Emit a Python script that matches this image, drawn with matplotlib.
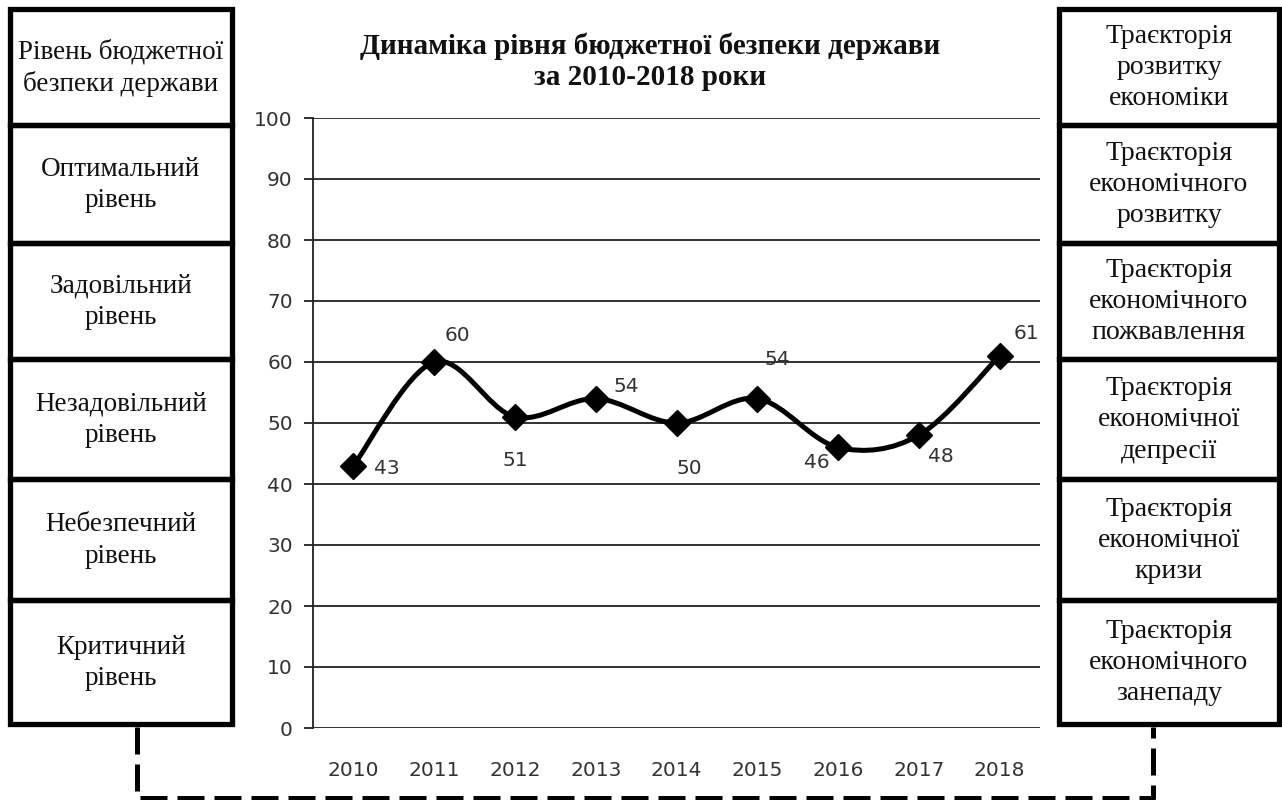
import numpy as np
import matplotlib
matplotlib.use("Agg")
import matplotlib.pyplot as plt
from matplotlib.patches import Rectangle
from matplotlib.path import Path
from matplotlib.patches import PathPatch

# ---------------- data ----------------
years = ["2010", "2011", "2012", "2013", "2014", "2015", "2016", "2017", "2018"]
values = [43, 60, 51, 54, 50, 54, 46, 48, 61]
y_ticks = [0, 10, 20, 30, 40, 50, 60, 70, 80, 90, 100]

title_text = "Динаміка рівня бюджетної безпеки держави\nза 2010-2018 роки"
left_labels = [
    "Рівень бюджетної\nбезпеки держави",
    "Оптимальний\nрівень",
    "Задовільний\nрівень",
    "Незадовільний\nрівень",
    "Небезпечний\nрівень",
    "Критичний\nрівень",
]
right_labels = [
    "Траєкторія\nрозвитку\nекономіки",
    "Траєкторія\nекономічного\nрозвитку",
    "Траєкторія\nекономічного\nпожвавлення",
    "Траєкторія\nекономічної\nдепресії",
    "Траєкторія\nекономічної\nкризи",
    "Траєкторія\nекономічного\nзанепаду",
]

# label offsets in pixels (dx, dy up)
label_offsets_px = [(33, -3), (23, 26), (0, -44), (31, 12), (13, -46),
                    (20, 39), (-21, -15), (22, -21), (27, 22)]

W, H = 1282, 800
fig = plt.figure(figsize=(W / 100, H / 100), dpi=100)
fig.patch.set_facecolor("white")

# ---------------- overlay for boxes ----------------
ov = fig.add_axes([0, 0, 1, 1])
ov.set_xlim(0, W)
ov.set_ylim(H, 0)
ov.axis("off")

row_edges = [8.5, 125, 242.5, 359, 479, 600, 723.5]
lw_box = 3.8
serif = ["Liberation Serif", "DejaVu Serif"]

def draw_column(x0, x1, labels, fs, ls):
    for i, lab in enumerate(labels):
        y0, y1 = row_edges[i], row_edges[i + 1]
        ov.add_patch(Rectangle((x0, y0), x1 - x0, y1 - y0, fill=False,
                               edgecolor="black", linewidth=lw_box,
                               joinstyle="miter"))
        ov.text((x0 + x1) / 2, (y0 + y1) / 2 + 1, lab, ha="center", va="center",
                fontsize=fs, family=serif, linespacing=ls, color="#111111")

draw_column(10, 232, left_labels, 19.5, 1.33)
draw_column(1059, 1279, right_labels, 20, 1.32)

# dashed connector
ov.plot([137, 137, 1153, 1153], [727, 798, 798, 727], color="black",
        linewidth=3.6, linestyle=(0, (5.4, 2.0)), solid_joinstyle="miter")

# title
ov.text(650, 62, title_text, ha="center", va="center", fontsize=21,
        family=serif, fontweight="bold", linespacing=1.2, color="#111111")

# ---------------- main chart ----------------
left, right = 313 / W, 1040 / W
bottom, top = (H - 728) / H, (H - 118) / H
ax = fig.add_axes([left, bottom, right - left, top - bottom])
ax.set_facecolor("none")
n = len(values)
x = np.arange(n)
ax.set_xlim(-0.5, n - 0.5)
ax.set_ylim(0, 100)
ax.set_yticks(y_ticks)
ax.set_xticks(x)
ax.set_xticklabels(years)
for s in ["top", "right", "bottom"]:
    ax.spines[s].set_visible(False)
ax.spines["left"].set_linewidth(1.3)
ax.spines["left"].set_color("#222222")
ax.yaxis.grid(True, color="#222222", linewidth=1.3)
ax.set_axisbelow(True)
ax.tick_params(axis="y", length=6.5, width=1.3, color="#222222", pad=8,
               labelsize=14.5, labelcolor="#333333")
ax.tick_params(axis="x", length=0, pad=24, labelsize=14.5, labelcolor="#333333")
for lab in ax.get_xticklabels() + ax.get_yticklabels():
    lab.set_family("DejaVu Sans")

# smoothed line (Catmull-Rom style bezier through data points)
px = x.astype(float)
py = np.array(values, dtype=float)
verts = [(px[0], py[0])]
codes = [Path.MOVETO]
for i in range(n - 1):
    pm = (px[max(i - 1, 0)], py[max(i - 1, 0)])
    p0 = (px[i], py[i])
    p1 = (px[i + 1], py[i + 1])
    p2 = (px[min(i + 2, n - 1)], py[min(i + 2, n - 1)])
    c1 = (p0[0] + (p1[0] - pm[0]) / 6, p0[1] + (p1[1] - pm[1]) / 6)
    c2 = (p1[0] - (p2[0] - p0[0]) / 6, p1[1] - (p2[1] - p0[1]) / 6)
    verts += [c1, c2, p1]
    codes += [Path.CURVE4] * 3
ax.add_patch(PathPatch(Path(verts, codes), facecolor="none", edgecolor="black",
                       linewidth=3.6, capstyle="round", joinstyle="round",
                       zorder=3))
ax.plot(x, values, linestyle="none", marker="D", markersize=13,
        color="black", zorder=4, clip_on=False)

for xi, v, (dx, dy) in zip(x, values, label_offsets_px):
    ax.annotate(str(v), (xi, v), xytext=(dx * 0.72, dy * 0.72),
                textcoords="offset points", ha="center", va="center",
                fontsize=14.5, color="#333333", family="DejaVu Sans")

fig.savefig("out.png", dpi=100, facecolor="white")
